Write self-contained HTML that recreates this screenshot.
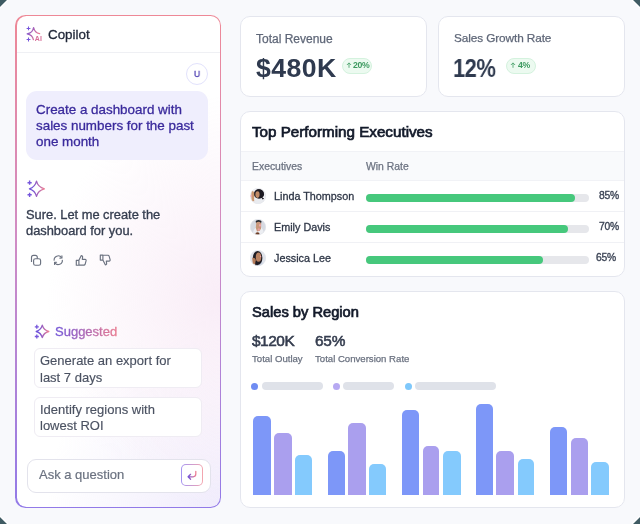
<!DOCTYPE html>
<html><head><meta charset="utf-8">
<style>
*{box-sizing:border-box;margin:0;padding:0}
html,body{width:640px;height:524px;overflow:hidden;background:#f8f9fc}
body{font-family:"Liberation Sans",sans-serif;position:relative}
.abs{position:absolute}
.t{position:absolute;white-space:nowrap;line-height:1;will-change:transform}
svg{will-change:transform}
svg{position:absolute;overflow:visible}
</style></head><body>
<div class="abs" style="left:0px;top:0px;width:640px;height:524px;background:#f8f9fc"></div>
<svg style="left:0;top:0" width="640" height="524" viewBox="0 0 640 524">
<g fill="#3f5b63"><path d="M0 0H7.3L0 7.3Z"/><path d="M640 0H632.7L640 7.3Z"/><path d="M0 524H7.3L0 516.7Z"/><path d="M640 524H632.7L640 516.7Z"/></g>
<g stroke="#ffffff" stroke-width="1.2"><path d="M8 0L0 8M632 0L640 8M0 516L8 524M640 516L632 524"/></g>
</svg>
<div class="abs" style="left:15.4px;top:15.2px;width:205.7px;height:492.6px;border-radius:10.5px;background:linear-gradient(180deg,#ee8896 0%,#d08cc4 45%,#927ae8 100%)"></div>
<div class="abs" style="left:16.5px;top:16.3px;width:203.5px;height:490.4px;border-radius:9.4px;background:radial-gradient(85% 42% at 100% 58%,rgba(249,237,247,1) 0%,rgba(249,237,247,0.55) 45%,rgba(249,237,247,0) 100%),radial-gradient(85% 38% at 100% 100%,rgba(240,236,252,1) 0%,rgba(240,236,252,0.5) 50%,rgba(240,236,252,0) 100%),#ffffff"></div>
<div class="abs" style="left:16.5px;top:51.6px;width:203.5px;height:1.0px;background:#eff0f4"></div>
<svg style="left:26px;top:27px" width="17" height="16" viewBox="0 0 17 16">
<defs><linearGradient id="g1" x1="0" y1="0" x2="1" y2="0.5"><stop offset="0" stop-color="#6f52d8"/><stop offset="1" stop-color="#ec7a92"/></linearGradient></defs>
<path d="M2.5 -0.5v3.8M0.6 1.4h3.8M2.5 10.6v3.8M0.6 12.5h3.8" stroke="#7656dc" stroke-width="1.05" fill="none"/>
<path d="M13.6 6.6Q8.8 5.8 7.6 0.6Q6.6 6 1.2 6.9Q6.4 7.9 7.4 12.6" stroke="url(#g1)" stroke-width="1.3" fill="none" stroke-linejoin="round" stroke-linecap="round"/>
<text x="8.8" y="13.7" font-size="7" font-family="Liberation Sans" font-weight="700" fill="#d8709a" letter-spacing="0.2">AI</text>
</svg>
<div class="t" id="copilot" style="left:48.00px;top:28.06px;font-size:13.4px;color:#1f2637;font-weight:400;letter-spacing:0px;-webkit-text-stroke:0.3px #1f2637;">Copilot</div>
<div class="abs" style="left:186.2px;top:63.2px;width:22.0px;height:22.0px;border:1px solid #e2e2fc;border-radius:50%;background:#fff"></div>
<div class="t" style="left:194.40px;top:69.47px;font-size:9.6px;color:#4a3ab0;font-weight:400;letter-spacing:0px;-webkit-text-stroke:0.3px #4a3ab0;transform:scaleX(0.88);transform-origin:0 0;">U</div>
<div class="abs" style="left:26px;top:91px;width:182px;height:69px;background:#efeefd;border-radius:11px"></div>
<div class="t" id="ub0" style="left:35.60px;top:102.66px;font-size:13.4px;color:#3a2a9c;font-weight:400;letter-spacing:0px;-webkit-text-stroke:0.3px #3a2a9c;">Create a dashboard with</div>
<div class="t" id="ub1" style="left:35.60px;top:118.96px;font-size:13.4px;color:#3a2a9c;font-weight:400;letter-spacing:0px;-webkit-text-stroke:0.3px #3a2a9c;">sales numbers for the past</div>
<div class="t" id="ub2" style="left:35.60px;top:135.26px;font-size:13.4px;color:#3a2a9c;font-weight:400;letter-spacing:0px;-webkit-text-stroke:0.3px #3a2a9c;">one month</div>
<svg style="left:26px;top:180px" width="19" height="18" viewBox="0 0 19 18">
<defs><linearGradient id="g2" x1="0" y1="0" x2="1" y2="0"><stop offset="0.2" stop-color="#6f52d8"/><stop offset="1" stop-color="#f07f92"/></linearGradient></defs>
<path d="M3.6 0.6v4.2M1.5 2.7h4.2M3.6 12.7v4.2M1.5 14.8h4.2" stroke="#7656dc" stroke-width="1.4" fill="none"/>
<path d="M10.5 1.2Q12 7.2 18.4 8.8Q12 10.4 10.5 16.3Q9 10.4 3.4 8.8Q9 7.2 10.5 1.2Z" stroke="url(#g2)" stroke-width="1.3" fill="none" stroke-linejoin="round"/>
</svg>
<div class="t" id="ai0" style="left:26.00px;top:208.72px;font-size:12.85px;color:#363e50;font-weight:400;letter-spacing:0px;-webkit-text-stroke:0.35px #363e50;">Sure. Let me create the</div>
<div class="t" id="ai1" style="left:26.00px;top:224.72px;font-size:12.85px;color:#363e50;font-weight:400;letter-spacing:0px;-webkit-text-stroke:0.35px #363e50;">dashboard for you.</div>
<svg style="left:27px;top:250px" width="20" height="20" viewBox="0 0 20 20">
<rect x="6.6" y="8.7" width="7" height="6.6" rx="1.8" stroke="#6b7280" fill="none" stroke-width="1.15"/>
<path d="M4.5 11.9V7.4A2 2 0 0 1 6.5 5.4H8.3A2 2 0 0 1 10.3 7.4V8.7" stroke="#6b7280" fill="none" stroke-width="1.15"/>
</svg>
<svg style="left:49px;top:250px" width="20" height="20" viewBox="0 0 20 20">
<path d="M5.2 10.6A4.1 4.1 0 0 1 12.6 7.6M13.3 9.8A4.1 4.1 0 0 1 5.9 12.8" stroke="#6b7280" fill="none" stroke-width="1.15"/>
<path d="M12.9 5.9L13 8L10.9 8.1M5.6 14.5L5.5 12.4L7.6 12.3" stroke="#6b7280" fill="none" stroke-width="1.1" stroke-linejoin="round" stroke-linecap="round"/>
</svg>
<svg style="left:71px;top:250px" width="20" height="20" viewBox="0 0 20 20">
<path d="M5.3 10.3h2.6v4.9H5.3zM7.9 10.3L10.3 5.6c.9 0 1.5.6 1.3 1.5L11.3 9.3h2.8c.8 0 1.2.7 1 1.4l-1 3.6c-.2.6-.6.9-1.1.9H7.9" stroke="#6b7280" fill="none" stroke-width="1.15" stroke-linejoin="round"/>
</svg>
<svg style="left:94.5px;top:250px" width="20" height="20" viewBox="0 0 20 20">
<g transform="translate(0 20.4) scale(1 -1)"><path d="M5.3 10.3h2.6v4.9H5.3zM7.9 10.3L10.3 5.6c.9 0 1.5.6 1.3 1.5L11.3 9.3h2.8c.8 0 1.2.7 1 1.4l-1 3.6c-.2.6-.6.9-1.1.9H7.9" stroke="#6b7280" fill="none" stroke-width="1.15" stroke-linejoin="round"/></g>
</svg>
<svg style="left:32px;top:322px" width="20" height="20" viewBox="0 0 20 20">
<path d="M4.8 2.8v4M2.8 4.8h4M4.8 12.5v4M2.8 14.5h4" stroke="#7656dc" stroke-width="1.3" fill="none"/>
<path d="M10.3 3.2Q11.6 8.2 16.8 9.5Q11.6 10.8 10.3 15.6Q9 10.8 4.2 9.5Q9 8.2 10.3 3.2Z" stroke="url(#g2)" stroke-width="1.3" fill="none" stroke-linejoin="round"/>
</svg>
<div class="t" id="sugg" style="left:54.70px;top:325.40px;font-size:13px;color:#7b5cd8;font-weight:400;letter-spacing:0px;padding-bottom:4px;background:linear-gradient(90deg,#7256d8,#e97b90);-webkit-background-clip:text;background-clip:text;color:transparent;-webkit-text-stroke:0.35px transparent;">Suggested</div>
<div class="abs" style="left:34px;top:348px;width:168px;height:40px;background:#fff;border:1px solid #efecf3;border-radius:6px"></div>
<div class="t" id="s10" style="left:39.80px;top:354.30px;font-size:13px;color:#4b5262;font-weight:400;letter-spacing:0px;-webkit-text-stroke:0.15px #4b5262;">Generate an export for</div>
<div class="t" id="s11" style="left:39.80px;top:370.70px;font-size:13px;color:#4b5262;font-weight:400;letter-spacing:0px;-webkit-text-stroke:0.15px #4b5262;">last 7 days</div>
<div class="abs" style="left:34px;top:397px;width:168px;height:40px;background:#fff;border:1px solid #efecf3;border-radius:6px"></div>
<div class="t" id="s20" style="left:39.80px;top:402.60px;font-size:13px;color:#4b5262;font-weight:400;letter-spacing:0px;-webkit-text-stroke:0.15px #4b5262;">Identify regions with</div>
<div class="t" id="s21" style="left:39.80px;top:419.10px;font-size:13px;color:#4b5262;font-weight:400;letter-spacing:0px;-webkit-text-stroke:0.15px #4b5262;">lowest ROI</div>
<div class="abs" style="left:27px;top:458.5px;width:183.5px;height:34.0px;background:#fff;border:1px solid #e3e3ec;border-radius:9px"></div>
<div class="t" id="ask" style="left:38.75px;top:468.20px;font-size:13px;color:#6b7280;font-weight:400;letter-spacing:0px;-webkit-text-stroke:0.2px #6b7280;">Ask a question</div>
<div class="abs" style="left:181px;top:464px;width:22px;height:22px;border-radius:5px;background:linear-gradient(90deg,#a493f2,#f4a6ae)"></div>
<div class="abs" style="left:182px;top:465px;width:20px;height:20px;border-radius:4px;background:#fff"></div>
<svg style="left:181px;top:464px" width="22" height="22" viewBox="0 0 22 22">
<defs><linearGradient id="g3" x1="0" y1="0" x2="1" y2="0"><stop offset="0" stop-color="#6f52d8"/><stop offset="1" stop-color="#f07f92"/></linearGradient></defs>
<path d="M14.8 7.3v2.8c0 1.4-.9 2.7-2.6 2.7H7.2M9.6 10.3L7.1 12.8L9.6 15.3" stroke="url(#g3)" stroke-width="1.25" fill="none" stroke-linecap="round" stroke-linejoin="round"/>
</svg>
<div class="abs" style="left:240px;top:16px;width:186.5px;height:80.5px;background:#fff;border:1px solid #e4e6ee;border-radius:10px"></div>
<div class="t" id="tr" style="left:255.60px;top:32.64px;font-size:12px;color:#5f6778;font-weight:400;letter-spacing:0px;-webkit-text-stroke:0.25px #5f6778;">Total Revenue</div>
<div class="t" id="rev" style="left:256.00px;top:55.54px;font-size:25px;color:#2f3a4f;font-weight:700;letter-spacing:0.4px;transform:scaleX(1.065);transform-origin:0 0;">$480K</div>
<div class="abs" style="left:342px;top:57.5px;width:30px;height:16.5px;background:#ecfaf0;border:1px solid #d4f2de;border-radius:9px"></div>
<svg style="left:346px;top:62.3px" width="6" height="6" viewBox="0 0 6 6"><path d="M3 5.8V0.9M0.9 3L3 0.9 5.1 3" stroke="#3d9a60" stroke-width="0.8" fill="none"/></svg>
<div class="t" style="left:353.00px;top:60.84px;font-size:8.7px;color:#3d9a60;font-weight:700;letter-spacing:-0.3px;">20%</div>
<div class="abs" style="left:438px;top:16px;width:186.5px;height:80.5px;background:#fff;border:1px solid #e4e6ee;border-radius:10px"></div>
<div class="t" id="sgr" style="left:453.60px;top:32.81px;font-size:11.8px;color:#5f6778;font-weight:400;letter-spacing:-0.1px;-webkit-text-stroke:0.25px #5f6778;">Sales Growth Rate</div>
<div class="t" id="p12" style="left:452.90px;top:55.61px;font-size:25.5px;color:#2f3a4f;font-weight:700;letter-spacing:-0.6px;transform:scaleX(0.86);transform-origin:0 0;">12%</div>
<div class="abs" style="left:506px;top:57.5px;width:30px;height:16.5px;background:#ecfaf0;border:1px solid #d4f2de;border-radius:9px"></div>
<svg style="left:510px;top:62.3px" width="6" height="6" viewBox="0 0 6 6"><path d="M3 5.8V0.9M0.9 3L3 0.9 5.1 3" stroke="#3d9a60" stroke-width="0.8" fill="none"/></svg>
<div class="t" style="left:518.40px;top:60.84px;font-size:8.7px;color:#3d9a60;font-weight:700;letter-spacing:-0.3px;">4%</div>
<div class="abs" style="left:240px;top:111px;width:384.5px;height:165.5px;background:#fff;border:1px solid #e4e6ee;border-radius:10px"></div>
<div class="t" id="tpe" style="left:252.00px;top:124.13px;font-size:15.2px;color:#131a2a;font-weight:400;letter-spacing:0px;-webkit-text-stroke:0.7px #131a2a;">Top Performing Executives</div>
<div class="abs" style="left:241px;top:151px;width:382.5px;height:30px;background:#f9fafc;border-top:1px solid #f1f2f6;border-bottom:1px solid #f1f2f6"></div>
<div class="t" id="exh" style="left:252.00px;top:162.00px;font-size:10.4px;color:#6b7280;font-weight:400;letter-spacing:0px;-webkit-text-stroke:0.25px #6b7280;">Executives</div>
<div class="t" id="wrh" style="left:366.00px;top:162.00px;font-size:10.4px;color:#6b7280;font-weight:400;letter-spacing:0px;-webkit-text-stroke:0.25px #6b7280;">Win Rate</div>
<div class="abs" style="left:241px;top:211px;width:382.5px;height:1px;background:#f0f1f5"></div>
<div class="abs" style="left:241px;top:242px;width:382.5px;height:1px;background:#f0f1f5"></div>
<svg style="left:250px;top:188px" width="16" height="16" viewBox="0 0 16 16"><defs><clipPath id="c0"><circle cx="8" cy="8" r="7.8"/></clipPath></defs>
<g clip-path="url(#c0)"><rect width="16" height="16" fill="#f2f3f6"/><path d="M3.5 16C3.5 11.5 6 9.6 9.2 9.6S14.8 11.5 15 16z" fill="#e9ebef"/><ellipse cx="9" cy="5.9" rx="5.1" ry="4.9" fill="#1d1b22"/><path d="M11 8.5C12.5 9.5 13.5 10 14.2 10.8L12.5 11.5z" fill="#1d1b22"/><ellipse cx="7.5" cy="6.6" rx="2.1" ry="3.3" fill="#c08a66"/><path d="M1.2 2.8C3 2.3 4 3.5 4.2 5.5L4.2 13.3L1.5 13.3z" fill="#cb9870"/><ellipse cx="0.9" cy="7.9" rx="0.9" ry="1.2" fill="#f0a0b0"/></g>
<circle cx="8" cy="8" r="7.7" fill="none" stroke="#e2e4ea" stroke-width="0.6"/></svg>
<div class="t" id="nm0" style="left:273.75px;top:191.16px;font-size:10.8px;color:#2f3747;font-weight:400;letter-spacing:0px;-webkit-text-stroke:0.3px #2f3747;">Linda Thompson</div>
<div class="abs" style="left:365.75px;top:193.5px;width:223.25px;height:8.0px;background:#e6e7eb;border-radius:4px"></div>
<div class="abs" style="left:365.75px;top:193.5px;width:209.25px;height:8.0px;background:#46c87c;border-radius:4px"></div>
<div class="t" id="pc0" style="left:598.90px;top:191.48px;font-size:10.3px;color:#3d4556;font-weight:400;letter-spacing:-0.25px;-webkit-text-stroke:0.35px #3d4556;">85%</div>
<svg style="left:250px;top:219px" width="16" height="16" viewBox="0 0 16 16"><defs><clipPath id="c1"><circle cx="8" cy="8" r="7.8"/></clipPath></defs>
<g clip-path="url(#c1)"><rect width="16" height="16" fill="#d6dae2"/><path d="M2.5 16C3 11 5 8 8.5 8S14 11 14 16z" fill="#eceef2"/><ellipse cx="8.6" cy="2.8" rx="2.9" ry="1.8" fill="#23262e"/><path d="M6.3 3.5C7.5 2.5 10.5 2.5 11.2 4.5L11 9.5L9.8 11.8L7 12.5L5.8 9z" fill="#c9977a"/><ellipse cx="10" cy="6.3" rx="0.9" ry="1.4" fill="#f0a6ac"/><ellipse cx="8.8" cy="10.5" rx="1.1" ry="1.3" fill="#eaa0a0"/><ellipse cx="7.5" cy="15" rx="2.1" ry="1.7" fill="#6c3b22"/></g>
<circle cx="8" cy="8" r="7.7" fill="none" stroke="#e2e4ea" stroke-width="0.6"/></svg>
<div class="t" id="nm1" style="left:273.75px;top:222.16px;font-size:10.8px;color:#2f3747;font-weight:400;letter-spacing:0px;-webkit-text-stroke:0.3px #2f3747;">Emily Davis</div>
<div class="abs" style="left:365.75px;top:224.5px;width:223.25px;height:8.0px;background:#e6e7eb;border-radius:4px"></div>
<div class="abs" style="left:365.75px;top:224.5px;width:202.25px;height:8.0px;background:#46c87c;border-radius:4px"></div>
<div class="t" id="pc1" style="left:598.90px;top:222.48px;font-size:10.3px;color:#3d4556;font-weight:400;letter-spacing:-0.25px;-webkit-text-stroke:0.35px #3d4556;">70%</div>
<svg style="left:250px;top:250px" width="16" height="16" viewBox="0 0 16 16"><defs><clipPath id="c2"><circle cx="8" cy="8" r="7.8"/></clipPath></defs>
<g clip-path="url(#c2)"><rect width="16" height="16" fill="#dfe3ea"/><path d="M3 16C3 12 5.5 11 8.5 11S13.5 12 13.5 16z" fill="#cdd6e4"/><ellipse cx="7.6" cy="8" rx="4.8" ry="7" fill="#1f1d24"/><ellipse cx="8.5" cy="7.2" rx="2.7" ry="4.6" fill="#b98262"/><path d="M2.2 8C3.5 7.3 5.5 8 5.8 10L5.5 14.2L2.8 14z" fill="#b47c5a"/><path d="M5.8 11L8 15.5H5z" fill="#1f1d24"/><ellipse cx="10.6" cy="6.5" rx="0.6" ry="0.8" fill="#f0a0b0"/></g>
<circle cx="8" cy="8" r="7.7" fill="none" stroke="#e2e4ea" stroke-width="0.6"/></svg>
<div class="t" id="nm2" style="left:273.75px;top:253.16px;font-size:10.8px;color:#2f3747;font-weight:400;letter-spacing:0px;-webkit-text-stroke:0.3px #2f3747;">Jessica Lee</div>
<div class="abs" style="left:365.75px;top:255.5px;width:223.25px;height:8.0px;background:#e6e7eb;border-radius:4px"></div>
<div class="abs" style="left:365.75px;top:255.5px;width:176.75px;height:8.0px;background:#46c87c;border-radius:4px"></div>
<div class="t" id="pc2" style="left:596.20px;top:253.48px;font-size:10.3px;color:#3d4556;font-weight:400;letter-spacing:-0.25px;-webkit-text-stroke:0.35px #3d4556;">65%</div>
<div class="abs" style="left:240px;top:291px;width:384.5px;height:216.5px;background:#fff;border:1px solid #e4e6ee;border-radius:10px"></div>
<div class="t" id="sbr" style="left:252.00px;top:305.46px;font-size:14.7px;color:#131a2a;font-weight:400;letter-spacing:0px;-webkit-text-stroke:0.7px #131a2a;">Sales by Region</div>
<div class="t" id="k120" style="left:252.00px;top:332.66px;font-size:15.4px;color:#353d4f;font-weight:400;letter-spacing:-0.45px;-webkit-text-stroke:0.55px #353d4f;">$120K</div>
<div class="t" id="p65" style="left:315.40px;top:332.66px;font-size:15.4px;color:#353d4f;font-weight:400;letter-spacing:-0.2px;-webkit-text-stroke:0.55px #353d4f;">65%</div>
<div class="t" id="to" style="left:252.00px;top:354.17px;font-size:9.6px;color:#6b7280;font-weight:400;letter-spacing:0px;-webkit-text-stroke:0.25px #6b7280;">Total Outlay</div>
<div class="t" id="tcr" style="left:315.20px;top:354.17px;font-size:9.6px;color:#6b7280;font-weight:400;letter-spacing:0px;-webkit-text-stroke:0.25px #6b7280;">Total Conversion Rate</div>
<div class="abs" style="left:251px;top:382.5px;width:7.199999999999989px;height:7.199999999999989px;background:#6f8cf2;border-radius:50%"></div>
<div class="abs" style="left:261.5px;top:382px;width:61.0px;height:8px;background:#dfe2e9;border-radius:4px"></div>
<div class="abs" style="left:332.8px;top:382.5px;width:7.199999999999989px;height:7.199999999999989px;background:#b7a9f2;border-radius:50%"></div>
<div class="abs" style="left:343.4px;top:382px;width:51.0px;height:8px;background:#dfe2e9;border-radius:4px"></div>
<div class="abs" style="left:404.7px;top:382.5px;width:7.199999999999989px;height:7.199999999999989px;background:#7fc8fb;border-radius:50%"></div>
<div class="abs" style="left:415.3px;top:382px;width:81.19999999999999px;height:8px;background:#dfe2e9;border-radius:4px"></div>
<div class="abs" style="left:253.4px;top:416.25px;width:17.849999999999994px;height:78.75px;background:#7d97f8;border-radius:5px 5px 0 0"></div>
<div class="abs" style="left:273.75px;top:433px;width:17.75px;height:62px;background:#aa9fee;border-radius:5px 5px 0 0"></div>
<div class="abs" style="left:295.3px;top:455px;width:16.599999999999966px;height:40px;background:#84cafd;border-radius:5px 5px 0 0"></div>
<div class="abs" style="left:328px;top:451.25px;width:16.69999999999999px;height:43.75px;background:#7d97f8;border-radius:5px 5px 0 0"></div>
<div class="abs" style="left:348.4px;top:423px;width:17.600000000000023px;height:72px;background:#aa9fee;border-radius:5px 5px 0 0"></div>
<div class="abs" style="left:368.75px;top:463.75px;width:17.5px;height:31.25px;background:#84cafd;border-radius:5px 5px 0 0"></div>
<div class="abs" style="left:401.6px;top:409.7px;width:17.399999999999977px;height:85.30000000000001px;background:#7d97f8;border-radius:5px 5px 0 0"></div>
<div class="abs" style="left:422.8px;top:445.6px;width:16.19999999999999px;height:49.39999999999998px;background:#aa9fee;border-radius:5px 5px 0 0"></div>
<div class="abs" style="left:443.4px;top:451.25px;width:17.200000000000045px;height:43.75px;background:#84cafd;border-radius:5px 5px 0 0"></div>
<div class="abs" style="left:476px;top:403.75px;width:17.399999999999977px;height:91.25px;background:#7d97f8;border-radius:5px 5px 0 0"></div>
<div class="abs" style="left:496.25px;top:451.25px;width:17.5px;height:43.75px;background:#aa9fee;border-radius:5px 5px 0 0"></div>
<div class="abs" style="left:517.5px;top:459px;width:16.5px;height:36px;background:#84cafd;border-radius:5px 5px 0 0"></div>
<div class="abs" style="left:550.3px;top:426.9px;width:16.600000000000023px;height:68.10000000000002px;background:#7d97f8;border-radius:5px 5px 0 0"></div>
<div class="abs" style="left:571px;top:437.8px;width:17px;height:57.19999999999999px;background:#aa9fee;border-radius:5px 5px 0 0"></div>
<div class="abs" style="left:591.25px;top:462.2px;width:17.5px;height:32.80000000000001px;background:#84cafd;border-radius:5px 5px 0 0"></div>
</body></html>
